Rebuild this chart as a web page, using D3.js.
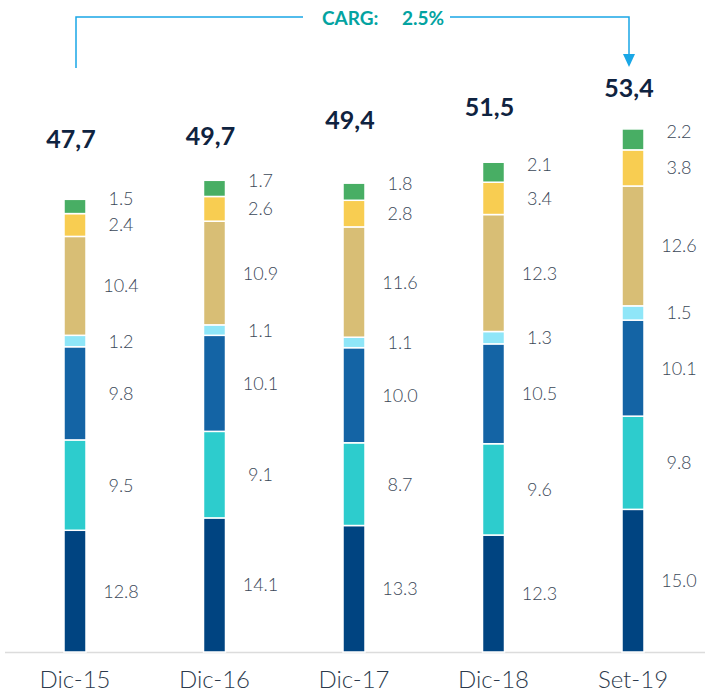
<!DOCTYPE html>
<html>
<head>
<meta charset="utf-8">
<script src="https://cdn.jsdelivr.net/npm/d3@7"></script>
<style>
  html, body { margin: 0; padding: 0; background: #fff; }
  svg { display: block; font-family: "Lato", "Open Sans", sans-serif; }
</style>
</head>
<body>
<div id="chart"></div>
<script>
// Data
const periods = ["Dic-15", "Dic-16", "Dic-17", "Dic-18", "Set-19"];
const totals = ["47,7", "49,7", "49,4", "51,5", "53,4"];
const totalValues = [47.7, 49.7, 49.4, 51.5, 53.4];
// stack order, bottom to top
const s1 = [12.8, 14.1, 13.3, 12.3, 15.0];
const s2 = [9.5, 9.1, 8.7, 9.6, 9.8];
const s3 = [9.8, 10.1, 10.0, 10.5, 10.1];
const s4 = [1.2, 1.1, 1.1, 1.3, 1.5];
const s5 = [10.4, 10.9, 11.6, 12.3, 12.6];
const s6 = [2.4, 2.6, 2.8, 3.4, 3.8];
const s7 = [1.5, 1.7, 1.8, 2.1, 2.2];
const seriesValues = [s1, s2, s3, s4, s5, s6, s7];
const colors = ["#004481", "#2dcccd", "#1464a5", "#8fe6f8", "#d8be75", "#f8cd51", "#48ae64"];
const cagrLabel = "CARG:";
const cagrValue = "2.5%";

/************************************
 * Chart
 ************************************/
const w = 705;
const h = 693;
const baseline = 652;

const svg = d3.select("#chart")
  .append("svg")
  .attr("width", w)
  .attr("height", h);

const xScale = d3.scalePoint()
  .domain(periods)
  .range([75, 633]);

const yScale = d3.scaleLinear()
  .domain([0, 55])
  .range([baseline, baseline - 55 * 9.51]);

const barW = 22;

// build stacked table
const table = periods.map((p, i) => {
  const row = { period: p };
  seriesValues.forEach((s, k) => row["k" + k] = s[i]);
  return row;
});
const stack = d3.stack().keys(seriesValues.map((s, k) => "k" + k));
const layers = stack(table);

// axis line
svg.append("line")
  .attr("x1", 5)
  .attr("x2", w)
  .attr("y1", baseline + 0.5)
  .attr("y2", baseline + 0.5)
  .style("stroke", "#dcdcdc")
  .style("stroke-width", 1.5);

// segments
const layerG = svg.selectAll("g.layer")
  .data(layers)
  .enter()
  .append("g")
  .attr("class", "layer")
  .style("fill", (d, k) => colors[k]);

layerG.selectAll("rect")
  .data(d => d)
  .enter()
  .append("rect")
  .attr("x", d => xScale(d.data.period) - barW / 2)
  .attr("y", d => yScale(d[1]))
  .attr("width", barW)
  .attr("height", d => yScale(d[0]) - yScale(d[1]))
  .style("stroke", "#fff")
  .style("stroke-width", 1.5);

// segment labels
layerG.selectAll("text")
  .data(d => d)
  .enter()
  .append("text")
  .attr("x", d => xScale(d.data.period) + 46)
  .attr("y", function (d) {
    const k = d3.select(this.parentNode).datum().index;
    const lift = k === seriesValues.length - 1 ? 8 : 0;
    return (yScale(d[0]) + yScale(d[1])) / 2 - lift;
  })
  .attr("dy", "0.36em")
  .attr("text-anchor", "middle")
  .style("fill", "#3b4858")
  .style("font-size", "18px")
  .style("font-weight", 300)
  .text(function (d) {
    const k = d3.select(this.parentNode).datum().index;
    return d.data["k" + k].toFixed(1);
  });

// totals
const totalNudge = [-2, 14, -5, 2, 1];
svg.selectAll("text.total")
  .data(totals)
  .enter()
  .append("text")
  .attr("class", "total")
  .attr("x", (d, i) => xScale(periods[i]) - 4)
  .attr("y", (d, i) => yScale(totalValues[i]) - 48 + totalNudge[i])
  .attr("text-anchor", "middle")
  .style("fill", "#0f2340")
  .style("font-size", "25px")
  .style("font-weight", "bold")
  .text(d => d);

// x labels
svg.selectAll("text.xlab")
  .data(periods)
  .enter()
  .append("text")
  .attr("class", "xlab")
  .attr("x", d => xScale(d))
  .attr("y", 688)
  .attr("text-anchor", "middle")
  .style("fill", "#2c3a4c")
  .style("font-size", "24px")
  .style("font-weight", 300)
  .text(d => d);

// CAGR bracket
const lineCol = "#1aa7e6";
const xL = xScale(periods[0]) + 1;
const xR = xScale(periods[periods.length - 1]) - 4;
const topY = 17;
svg.append("path")
  .attr("d", `M${xL},68 V${topY} H303 M450,${topY} H${xR} V58`)
  .style("fill", "none")
  .style("stroke", lineCol)
  .style("stroke-width", 1.5);
svg.append("path")
  .attr("d", `M${xR - 6},54 L${xR + 6},54 L${xR},67 Z`)
  .style("fill", lineCol);

svg.append("text")
  .attr("x", 322)
  .attr("y", 25)
  .style("fill", "#03a3a1")
  .style("font-size", "19px")
  .style("font-weight", "bold")
  .text(cagrLabel);
svg.append("text")
  .attr("x", 444)
  .attr("y", 25)
  .attr("text-anchor", "end")
  .style("fill", "#03a3a1")
  .style("font-size", "19px")
  .style("font-weight", "bold")
  .text(cagrValue);
</script>
</body>
</html>
